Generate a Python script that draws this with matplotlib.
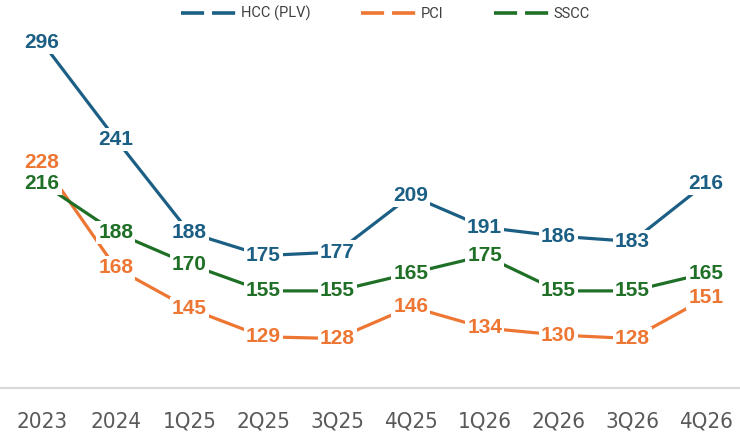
import matplotlib
matplotlib.use("Agg")
import matplotlib.pyplot as plt
from matplotlib.lines import Line2D

categories = ["2023", "2024", "1Q25", "2Q25", "3Q25", "4Q25", "1Q26", "2Q26", "3Q26", "4Q26"]
hcc = [296, 241, 188, 175, 177, 209, 191, 186, 183, 216]
pci = [228, 168, 145, 129, 128, 146, 134, 130, 128, 151]
sscc = [216, 188, 170, 155, 155, 165, 175, 155, 155, 165]
series_names = ["HCC (PLV)", "PCI", "SSCC"]

colors = ["#1B5F84", "#EE7633", "#1F7026"]

fig = plt.figure(figsize=(7.4, 4.38), dpi=100)
ax = fig.add_axes([0.0, 0.1142, 1.0, 0.8858])
x = list(range(len(categories)))

label_font = "Liberation Sans"
for vals, col, z in [(pci, colors[1], 2), (sscc, colors[2], 3), (hcc, colors[0], 4)]:
    ax.plot(x, vals, color=col, lw=2.3, solid_capstyle="butt", zorder=z)
for vals, col, z in [(pci, colors[1], 5), (sscc, colors[2], 6), (hcc, colors[0], 7)]:
    for xi, v in zip(x, vals):
        ax.text(xi, v, str(v), color=col, fontsize=15, fontweight="bold",
                family=label_font, ha="center", va="center", zorder=z,
                bbox=dict(facecolor="white", edgecolor="none", pad=1.5))

ax.set_xlim(-0.569, 9.461)
ax.set_ylim(100, 319.8)
ax.set_xticks(x)
ax.set_xticklabels(categories, fontsize=16, color="#595959", family="DejaVu Sans",
                   fontstretch="condensed")
ax.tick_params(axis="x", length=0, pad=17)
ax.set_yticks([])
for s in ["top", "right", "left"]:
    ax.spines[s].set_visible(False)
ax.spines["bottom"].set_color("#D9D9D9")
ax.spines["bottom"].set_linewidth(1.5)

handles = [Line2D([0], [0], color=c, lw=2.6, linestyle=(0, (6.4, 2.2))) for c in colors]
leg = fig.legend(handles, series_names, loc="upper center", bbox_to_anchor=(0.521, 1.016),
                 ncol=3, frameon=False, handlelength=3.77, handletextpad=0.3,
                 columnspacing=3.5, prop={"family": "Roboto", "size": 10.5})
for t in leg.get_texts():
    t.set_color("#404040")

fig.savefig("out.png", dpi=100)
